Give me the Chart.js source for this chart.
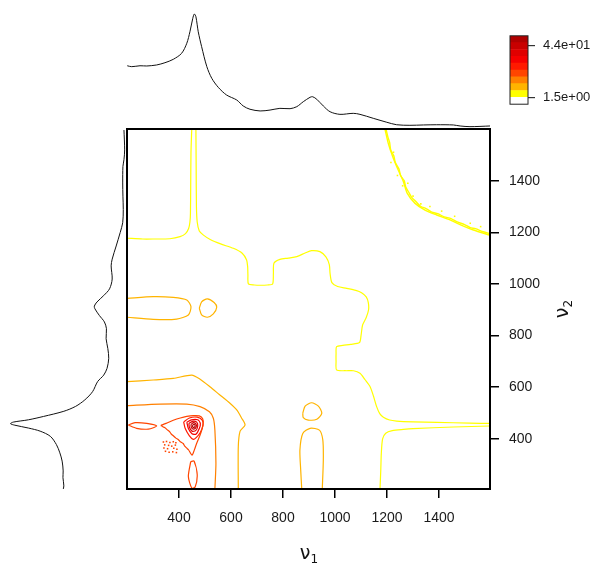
<!DOCTYPE html>
<html>
<head>
<meta charset="utf-8">
<script src="https://cdn.jsdelivr.net/npm/chart.js@4.4.1/dist/chart.umd.min.js"></script>
<style>
html,body{margin:0;padding:0;background:#fff;}
#wrap{position:relative;width:599px;height:564px;overflow:hidden;background:#fff;}
canvas{position:absolute;display:block;}
#main{left:0;top:0;}
#topSpec{left:127px;top:0;}
#leftSpec{left:0;top:129px;}
#key{left:500px;top:20px;}
.axTitle{position:absolute;font-family:'DejaVu Sans',sans-serif;font-size:19px;color:#111;white-space:nowrap;line-height:20px;text-align:center;width:100px;height:20px;}
.axTitle sub{font-size:12px;vertical-align:baseline;position:relative;top:4px;}
#xTitle{left:259px;top:542px;}
#yTitle{left:511px;top:299px;transform:rotate(-90deg);}
</style>
</head>
<body>
<div id="wrap">
  <canvas id="main" width="599" height="564"></canvas>
  <canvas id="topSpec" width="363" height="129"></canvas>
  <canvas id="leftSpec" width="127" height="360"></canvas>
  <canvas id="key" width="99" height="100"></canvas>
  <div class="axTitle" id="xTitle">ν<sub>1</sub></div>
  <div class="axTitle" id="yTitle">ν<sub>2</sub></div>
</div>
<script>
// Mean spectrum (drawn along the top and, rotated, along the left side)
const wavenumber = [201,218,250,276,314,346,378,410,430,442,453,459,465,474,487,507,526,551,583,622,
  647,673,712,750,788,827,853,878,904,914,930,955,981,1019,1070,1096,1147,1199,1237,1288,
  1340,1391,1455,1481,1519,1596];
const meanSpectrum = [0.542,0.534,0.542,0.540,0.549,0.569,0.599,0.652,0.741,0.843,0.962,1.000,0.976,0.843,0.711,0.534,0.431,0.351,0.283,0.239,
  0.186,0.157,0.142,0.150,0.165,0.162,0.180,0.224,0.263,0.268,0.245,0.186,0.135,0.112,0.121,0.112,0.077,0.042,0.020,0.015,
  0.018,0.020,0.018,0.009,0.003,0.009];

// Axis tick values
const axisTicks = [400,600,800,1000,1200,1400];

// Colour key: band boundaries, band colours, labelled values
const keyLevels = [-4.15,1.5,7.15,12.8,18.45,24.1,29.75,35.4,41.05,46.7,52.35];
const keyColors = ['#ffffff','#ffff00','#ffb400','#ff8000','#ff4500','#ff1a00','#f50000','#e00000','#c80000','#b00000'];
const keyTicks = [1.5,44];

// Contour paths [nu1, nu2]; level index refers to keyLevels / keyColors
const yellowA = [[201,1177],[260,1174],[301,1174],[365,1175],[404,1183],[425,1195],[437,1215],[442,1240],[444,1273],[445,1377],[446,1506],[449,1600]];
const yellowB = [[465,1600],[466,1450],[467,1300],[470,1240],[478,1205],[494,1189],[520,1172],[560,1155],[609,1138],[643,1119],[660,1093],[664,1067],[665,1035],[667,1000],
  [690,996],[712,995],[740,996],[760,1000],[763,1040],[765,1080],[788,1095],[820,1100],[853,1106],[885,1120],[910,1129],[942,1125],[965,1105],[978,1075],[981,1040],[988,1005],
  [1010,990],[1045,983],[1080,975],[1102,966],[1120,950],[1128,928],[1129,900],[1120,870],[1106,841],[1100,800],[1094,773],[1060,766],[1030,762],[1006,757],[1004,730],
  [1004,700],[1006,667],[1040,664],[1071,664],[1096,654],[1115,630],[1135,602],[1148,565],[1160,525],[1172,498],[1186,484],[1210,473],[1237,469],[1300,466],[1391,464],[1519,461],[1596,460]];
const yellowC = [[1596,450],[1455,446],[1300,440],[1263,437],[1220,432],[1195,422],[1183,400],[1178,344],[1176,280],[1173,206]];
const yellowD = [[1192,1600],[1205,1544],[1222,1493],[1243,1441],[1263,1396],[1278,1351],[1308,1312],[1346,1286],[1391,1267],[1442,1248],[1494,1224],[1532,1209],[1596,1189]];
const yellowE = [[1196,1600],[1203,1570],[1210,1548],[1214,1520],[1226,1496],[1232,1470],[1246,1445],[1252,1420],[1266,1400],[1272,1375],[1283,1356],[1295,1335],
  [1312,1318],[1330,1300],[1350,1292],[1372,1278],[1395,1272],[1420,1260],[1446,1253],[1470,1240],[1498,1230],[1520,1218],[1540,1214],[1570,1202],[1596,1195]];
const yellowSpecks = [[1225,1510],[1215,1470],[1240,1420],[1280,1390],[1260,1380],[1300,1340],[1330,1310],[1365,1300],[1410,1282],[1460,1262],[1520,1235],[1560,1222]];
const goldA = [[201,944],[301,951],[378,948],[430,938],[446,912],[436,880],[391,864],[301,863],[201,871]];
const goldB = [[478,906],[487,931],[509,942],[535,928],[545,910],[532,884],[509,871],[487,880],[478,906]];
const goldC = [[876,499],[885,527],[910,540],[936,527],[949,499],[930,476],[897,473],[878,482],[876,499]];
const goldD = [[872,206],[868,280],[865,357],[876,421],[904,441],[940,434],[953,396],[955,318],[951,206]];
const goldE = [[201,622],[301,628],[378,634],[449,647],[481,631],[519,602],[555,572],[596,538],[622,512],[640,482],[654,454],[635,430],[628,370],[628,206]];
const orangeA = [[201,529],[327,535],[430,535],[481,525],[517,505],[532,480],[538,434],[542,306],[538,206]];
const redOrangeA = [[205,454],[231,463],[276,460],[314,450],[282,438],[237,441],[205,454]];
const redOrangeB = [[330,452],[350,460],[378,472],[405,481],[430,487],[455,490],[478,489],[491,478],[493,458],[488,436],[480,412],[470,388],[462,366],[455,346],[450,337],
  [444,345],[437,357],[430,364],[422,372],[416,382],[405,389],[397,398],[388,403],[378,412],[370,419],[363,429],[354,436],[346,443],[338,447],[330,452]];
const redOrangeC = [[445,312],[458,314],[470,262],[462,214],[449,210],[436,254],[445,312]];
const redOrangeDots = [[340,388],[352,390],[365,386],[378,389],[388,385],[345,377],[360,375],[372,372],[386,376],[342,365],[356,362],[380,364],[392,360],[348,352],[362,348],[376,350],[390,347]];
const peak5 = [[418,466],[440,481],[470,484],[490,472],[492,452],[482,425],[466,405],[455,398],[440,412],[424,440],[418,466]];
const peak6 = [[430,465],[448,474],[472,474],[482,460],[478,440],[465,418],[450,420],[436,440],[430,465]];
const peak7 = [[438,460],[452,468],[468,465],[472,450],[464,432],[450,430],[440,445],[438,460]];
const peak8 = [[446,456],[456,463],[465,458],[466,446],[457,438],[448,443],[446,456]];
const peak9 = [[452,453],[458,457],[462,452],[459,445],[453,446],[452,453]];

const contourLines = [
  [yellowA,1],[yellowB,1],[yellowC,1],[yellowD,1],[yellowE,1],
  [goldA,2],[goldB,2],[goldC,2],[goldD,2],[goldE,2],
  [orangeA,3],
  [redOrangeA,4],[redOrangeB,4],[redOrangeC,4],
  [peak5,5],[peak6,6],[peak7,7],[peak8,8],[peak9,9]
];
const speckSets = [[yellowSpecks,1],[redOrangeDots,4]];

const toXY = pts => pts.map(([x, y]) => ({x, y}));

// Draws a box around the plotting area
const framePlugin = {
  id: 'frame',
  afterDatasetsDraw(chart, args, opts) {
    const {ctx, chartArea: a} = chart;
    ctx.save();
    ctx.strokeStyle = opts.color;
    ctx.lineWidth = opts.width;
    ctx.strokeRect(a.left, a.top, a.right - a.left, a.bottom - a.top);
    ctx.restore();
  }
};

const tickFont = {family: "'Liberation Sans', Arial, sans-serif", size: 14};

// ---- main contour map ----
const datasets = contourLines.map(([pts, lvl]) => ({
  data: toXY(pts), showLine: true, pointRadius: 0, borderColor: keyColors[lvl],
  borderWidth: (pts === yellowD || pts === yellowE) ? 1.4 : 1.2, tension: 0.25, fill: false
}));
speckSets.forEach(([pts, lvl]) => datasets.push({
  data: toXY(pts), showLine: false, pointRadius: 1.1, pointStyle: 'rect',
  backgroundColor: keyColors[lvl], borderColor: keyColors[lvl], borderWidth: 0
}));

new Chart(document.getElementById('main'), {
  type: 'scatter',
  data: {datasets},
  plugins: [framePlugin],
  options: {
    responsive: false, animation: false, events: [],
    layout: {padding: {left: 127, top: 129, right: 0, bottom: 0}},
    plugins: {legend: {display: false}, tooltip: {enabled: false}, frame: {color: '#000', width: 2}},
    scales: {
      x: {
        type: 'linear', position: 'bottom', min: 200, max: 1596,
        afterBuildTicks: s => { s.ticks = axisTicks.map(v => ({value: v})); },
        afterFit: s => { s.height = 75; },
        border: {display: false},
        grid: {drawOnChartArea: false, drawTicks: true, tickLength: 9, color: '#000', lineWidth: 1.5},
        ticks: {color: '#1a1a1a', font: tickFont, padding: 12, maxRotation: 0, autoSkip: false, callback: v => String(v)}
      },
      y: {
        type: 'linear', position: 'right', min: 206, max: 1600,
        afterBuildTicks: s => { s.ticks = axisTicks.map(v => ({value: v})); },
        afterFit: s => { s.width = 109; },
        border: {display: false},
        grid: {drawOnChartArea: false, drawTicks: true, tickLength: 9, color: '#000', lineWidth: 1.5},
        ticks: {color: '#1a1a1a', font: tickFont, padding: 10, autoSkip: false, callback: v => String(v)}
      }
    }
  }
});

// ---- spectrum above the map ----
new Chart(document.getElementById('topSpec'), {
  type: 'scatter',
  data: {datasets: [{
    data: wavenumber.map((w, i) => ({x: w, y: meanSpectrum[i]})),
    showLine: true, pointRadius: 0, borderColor: '#111', borderWidth: 1, tension: 0.3, clip: false
  }]},
  options: {
    responsive: false, animation: false, events: [],
    layout: {padding: 0},
    plugins: {legend: {display: false}, tooltip: {enabled: false}},
    scales: {
      x: {display: false, type: 'linear', min: 200, max: 1596},
      y: {display: false, type: 'linear', min: -0.0177, max: 1.124}
    }
  }
});

// ---- spectrum left of the map (rotated) ----
new Chart(document.getElementById('leftSpec'), {
  type: 'scatter',
  data: {datasets: [{
    data: wavenumber.map((w, i) => ({x: meanSpectrum[i], y: w})),
    showLine: true, pointRadius: 0, borderColor: '#111', borderWidth: 1, tension: 0.3, clip: false
  }]},
  options: {
    responsive: false, animation: false, events: [],
    layout: {padding: 0},
    plugins: {legend: {display: false}, tooltip: {enabled: false}},
    scales: {
      x: {display: false, type: 'linear', reverse: true, min: -0.0175, max: 1.0917},
      y: {display: false, type: 'linear', min: 206, max: 1600}
    }
  }
});

// ---- colour key ----
const sci = v => {
  const e = Math.floor(Math.log10(Math.abs(v)));
  const m = v / Math.pow(10, e);
  return m.toFixed(1) + 'e' + (e < 0 ? '-' : '+') + String(Math.abs(e)).padStart(2, '0');
};
new Chart(document.getElementById('key'), {
  type: 'bar',
  data: {
    labels: [''],
    datasets: keyColors.map((c, i) => ({
      data: [[keyLevels[i], keyLevels[i + 1]]], backgroundColor: c, borderWidth: 0,
      barPercentage: 1, categoryPercentage: 1, grouped: false
    }))
  },
  plugins: [framePlugin],
  options: {
    responsive: false, animation: false, events: [],
    layout: {padding: {left: 10, top: 13, bottom: 14, right: 0}},
    plugins: {legend: {display: false}, tooltip: {enabled: false}, frame: {color: '#222', width: 1}},
    scales: {
      x: {display: false},
      y: {
        position: 'right', min: keyLevels[0], max: keyLevels[keyLevels.length - 1],
        afterBuildTicks: s => { s.ticks = keyTicks.map(v => ({value: v})); },
        afterFit: s => { s.width = 71; },
        border: {display: false},
        grid: {drawOnChartArea: false, drawTicks: true, tickLength: 7, color: '#333', lineWidth: 1.2},
        ticks: {color: '#1a1a1a', font: {family: "'Liberation Sans', Arial, sans-serif", size: 13}, padding: 8, callback: v => sci(v), autoSkip: false}
      }
    }
  }
});
</script>
</body>
</html>
